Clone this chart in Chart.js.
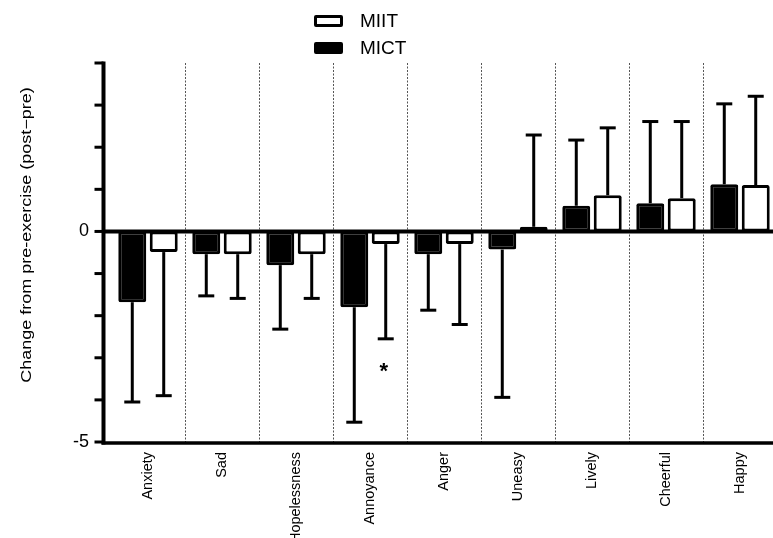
<!DOCTYPE html>
<html><head><meta charset="utf-8">
<script src="https://cdn.jsdelivr.net/npm/chart.js@4.4.1/dist/chart.umd.min.js"></script>
<style>
html,body{margin:0;padding:0;background:#fff;overflow:hidden;width:773px;height:538px;}
#wrap{position:absolute;left:0;top:0;width:780px;height:538px;}
.leg{position:absolute;left:314px;height:21px;line-height:21px;font:19px "Liberation Sans",Arial,sans-serif;color:#000;display:flex;align-items:center;}
.box{display:inline-block;width:29px;height:12px;border:3px solid #000;box-sizing:border-box;border-radius:2px;margin-right:17px;}
</style></head>
<body>
<div id="wrap"><canvas id="c"></canvas></div>
<div class="leg" style="top:10px"><span class="box" style="background:#fff"></span>MIIT</div>
<div class="leg" style="top:37px"><span class="box" style="background:#000"></span>MICT</div>
<script>
const categories = ['Anxiety','Sad','Hopelessness','Annoyance','Anger','Uneasy','Lively','Cheerful','Happy'];
const mictMean = [-1.68, -0.54, -0.80, -1.80, -0.54, -0.43, 0.61, 0.67, 1.12];
const mictSD   = [ 2.37,  0.99,  1.52,  2.73,  1.33,  3.51, 1.56, 1.94, 1.91];
const miitMean = [-0.49, -0.54, -0.54, -0.30, -0.30,  0.11, 0.86, 0.79, 1.10];
const miitSD   = [ 3.41,  1.05,  1.05,  2.25,  1.91,  2.18, 1.60, 1.82, 2.11];
const yMin = -5, yMax = 4, yStep = 1;
const yTickLabels = [0, -5];
const yTitle = 'Change from pre-exercise (post\u2212pre)';
const asteriskAt = {category: 3, dataset: 1, value: -3.24};

const FONT = '"Liberation Sans", Arial, sans-serif';

const deco = {
  id: 'deco',
  beforeDatasetsDraw(chart) {
    const {ctx, chartArea: a, scales: {x}} = chart;
    ctx.save();
    ctx.strokeStyle = '#555';
    ctx.lineWidth = 1;
    ctx.setLineDash([2, 1.5]);
    for (let i = 0; i < categories.length - 1; i++) {
      const px = Math.round((x.getPixelForValue(i) + x.getPixelForValue(i + 1)) / 2) + 0.5;
      ctx.beginPath();
      ctx.moveTo(px, a.top);
      ctx.lineTo(px, a.bottom);
      ctx.stroke();
    }
    ctx.restore();
  },
  afterDatasetsDraw(chart) {
    const {ctx, chartArea: a, scales: {x, y}} = chart;
    ctx.save();
    ctx.strokeStyle = '#000';
    ctx.fillStyle = '#000';
    ctx.lineCap = 'butt';
    // error bars
    const series = [[mictMean, mictSD], [miitMean, miitSD]];
    series.forEach(([m, sd], di) => {
      const meta = chart.getDatasetMeta(di);
      meta.data.forEach((bar, i) => {
        const dir = m[i] >= 0 ? 1 : -1;
        const y0 = y.getPixelForValue(m[i]);
        const y1 = y.getPixelForValue(m[i] + dir * sd[i]);
        ctx.lineWidth = 3;
        ctx.beginPath();
        ctx.moveTo(bar.x, y0);
        ctx.lineTo(bar.x, y1);
        ctx.stroke();
        ctx.beginPath();
        ctx.moveTo(bar.x - 8, y1);
        ctx.lineTo(bar.x + 8, y1);
        ctx.stroke();
      });
    });
    // zero line
    const axX = a.left - 7.5;
    const zy = y.getPixelForValue(0);
    ctx.lineWidth = 4;
    ctx.beginPath();
    ctx.moveTo(axX, zy);
    ctx.lineTo(chart.width, zy);
    ctx.stroke();
    // bottom axis line
    ctx.lineWidth = 3.5;
    ctx.beginPath();
    ctx.moveTo(axX - 2, a.bottom + 1);
    ctx.lineTo(chart.width, a.bottom + 1);
    ctx.stroke();
    // y axis line
    ctx.lineWidth = 4;
    ctx.beginPath();
    ctx.moveTo(axX, a.top - 1.5);
    ctx.lineTo(axX, a.bottom + 2.5);
    ctx.stroke();
    // y tick marks
    ctx.lineWidth = 3;
    y.ticks.forEach(t => {
      const py = y.getPixelForValue(t.value);
      ctx.beginPath();
      ctx.moveTo(axX - 9, py);
      ctx.lineTo(axX, py);
      ctx.stroke();
    });
    // asterisk
    const b = chart.getDatasetMeta(asteriskAt.dataset).data[asteriskAt.category];
    ctx.font = 'bold 22px ' + FONT;
    ctx.textAlign = 'center';
    ctx.textBaseline = 'alphabetic';
    ctx.fillText('*', b.x - 2, y.getPixelForValue(asteriskAt.value) + 10);
    // y title
    ctx.translate(27, 235);
    ctx.rotate(-Math.PI / 2);
    ctx.scale(1, 0.8);
    ctx.font = '18px ' + FONT;
    ctx.textBaseline = 'middle';
    ctx.fillText(yTitle, 0, 0);
    ctx.restore();
  }
};

new Chart(document.getElementById('c'), {
  type: 'bar',
  data: {
    labels: categories,
    datasets: [
      {label: 'MICT', data: mictMean, backgroundColor: '#000', borderColor: '#000', borderWidth: 3, borderRadius: 2, borderSkipped: false},
      {label: 'MIIT', data: miitMean, backgroundColor: '#fff', borderColor: '#000', borderWidth: 3, borderRadius: 2, borderSkipped: false}
    ]
  },
  options: {
    responsive: true,
    maintainAspectRatio: false,
    animation: false,
    categoryPercentage: 0.85,
    barPercentage: 0.89,
    layout: {padding: {top: 63, right: 3, left: 0, bottom: 0}},
    plugins: {legend: {display: false}, tooltip: {enabled: false}},
    scales: {
      x: {
        type: 'category', offset: true,
        grid: {display: false, drawTicks: false},
        border: {display: false},
        ticks: {autoSkip: false, maxRotation: 90, minRotation: 90, padding: 10, color: '#000', font: {family: FONT, size: 14.5}},
        afterFit(s) { s.height = 96; }
      },
      y: {
        min: yMin, max: yMax,
        grid: {display: false, drawTicks: false},
        border: {display: false},
        ticks: {stepSize: yStep, padding: 22, color: '#000', font: {family: FONT, size: 18},
          callback: v => yTickLabels.includes(v) ? String(v) : ''},
        afterFit(s) { s.width = 111; }
      }
    }
  },
  plugins: [deco]
});
</script>
</body></html>
